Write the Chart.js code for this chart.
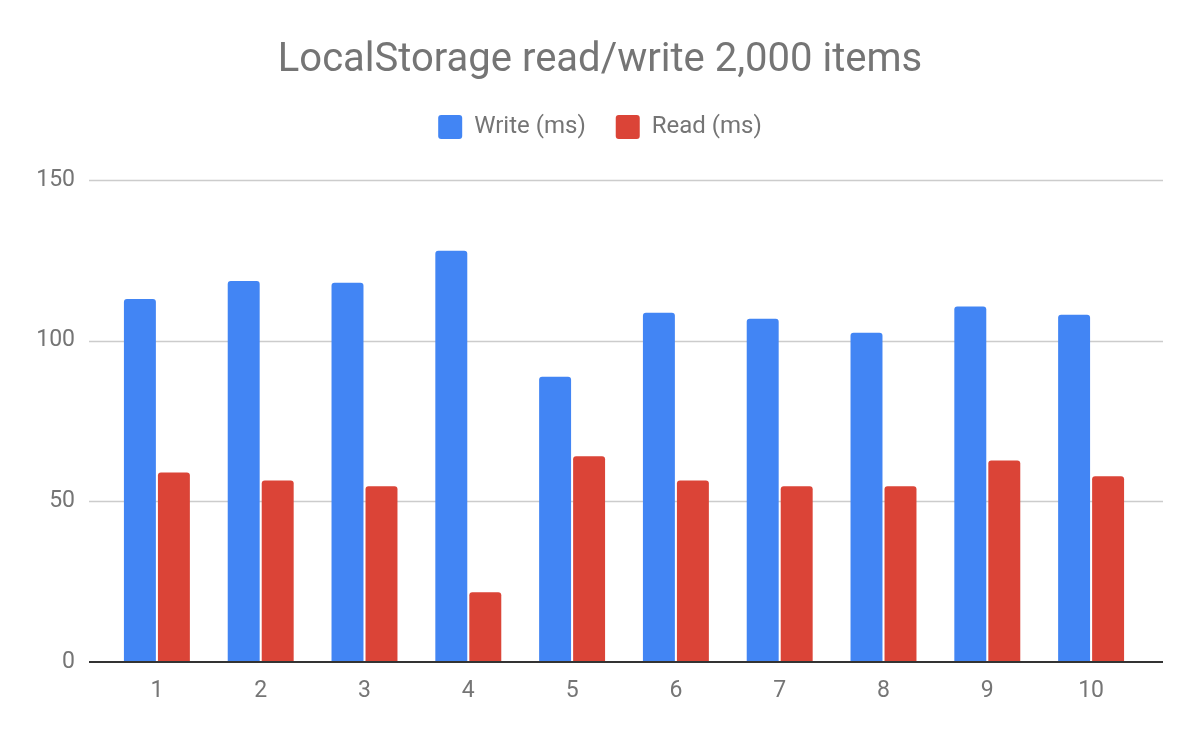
<!DOCTYPE html>
<html>
<head>
<meta charset="utf-8">
<script src="https://cdn.jsdelivr.net/npm/chart.js@4"></script>
<style>
  html, body { margin: 0; padding: 0; background: #fff; }
  #wrap { width: 1200px; height: 742px; }
</style>
</head>
<body>
<div id="wrap"><canvas id="c" width="1200" height="742"></canvas></div>
<script>
const categories = ["1", "2", "3", "4", "5", "6", "7", "8", "9", "10"];
const writeMs = [113.0, 118.6, 118.0, 128.0, 88.8, 108.7, 106.8, 102.5, 110.6, 108.1];
const readMs = [59.0, 56.5, 54.7, 21.7, 64.0, 56.5, 54.7, 54.7, 62.7, 57.8];
const seriesNames = ["Write (ms)", "Read (ms)"];
const yTicks = [0, 50, 100, 150];

const gridPlugin = {
  id: 'extGrid',
  beforeDatasetsDraw(chart) {
    const { ctx, chartArea, scales } = chart;
    ctx.save();
    ctx.strokeStyle = '#cccccc';
    ctx.lineWidth = 1.5;
    yTicks.forEach(v => {
      if (v === 0) return;
      const y = Math.round(scales.y.getPixelForValue(v)) + 0.5;
      ctx.beginPath();
      ctx.moveTo(chartArea.left - 16, y);
      ctx.lineTo(chartArea.right + 20, y);
      ctx.stroke();
    });
    ctx.restore();
  },
  afterDatasetsDraw(chart) {
    const { ctx, chartArea, scales } = chart;
    const y = scales.y.getPixelForValue(0);
    ctx.save();
    ctx.strokeStyle = '#333333';
    ctx.lineWidth = 2;
    ctx.beginPath();
    ctx.moveTo(chartArea.left - 16, y);
    ctx.lineTo(chartArea.right + 20, y);
    ctx.stroke();
    ctx.restore();
  }
};

const hiddenAxis = (pos, fit) => ({
  type: 'linear',
  position: pos,
  display: true,
  grid: { display: false, drawTicks: false },
  border: { display: false },
  ticks: { display: false },
  afterFit: fit
});

new Chart(document.getElementById('c'), {
  type: 'bar',
  data: {
    labels: categories,
    datasets: [
      { label: seriesNames[0], data: writeMs, backgroundColor: '#4285F4', borderRadius: 3 },
      { label: seriesNames[1], data: readMs, backgroundColor: '#DB4437', borderRadius: 3 }
    ]
  },
  options: {
    responsive: false,
    animation: false,
    devicePixelRatio: 1,
    layout: { padding: 0 },
    datasets: { bar: { categoryPercentage: 0.655, barPercentage: 0.94 } },
    plugins: {
      title: {
        display: true,
        text: 'LocalStorage read/write 2,000 items',
        color: '#757575',
        font: { family: 'Roboto', size: 40, weight: 'normal' },
        padding: { top: 37, bottom: 0 }
      },
      legend: {
        display: true,
        labels: {
          color: '#757575',
          font: { family: 'Roboto', size: 24 },
          boxWidth: 24,
          boxHeight: 24,
          padding: 30,
          useBorderRadius: true,
          borderRadius: 3
        }
      },
      tooltip: { enabled: false }
    },
    scales: {
      x: {
        grid: { display: false, drawTicks: false },
        border: { display: false },
        ticks: { color: '#757575', font: { family: 'Roboto', size: 23 }, padding: 15 },
        afterFit(s) { s.height = 80; }
      },
      y: {
        min: 0, max: 150,
        grid: { display: false, drawTicks: false },
        border: { display: false },
        ticks: {
          stepSize: 50,
          color: '#757575',
          font: { family: 'Roboto', size: 23 },
          padding: 30
        },
        afterFit(s) { s.width = 105; }
      },
      xTopSpace: hiddenAxis('top', s => { s.height = 31; }),
      yRightSpace: hiddenAxis('right', s => { s.width = 57; })
    }
  },
  plugins: [gridPlugin]
});
</script>
</body>
</html>
